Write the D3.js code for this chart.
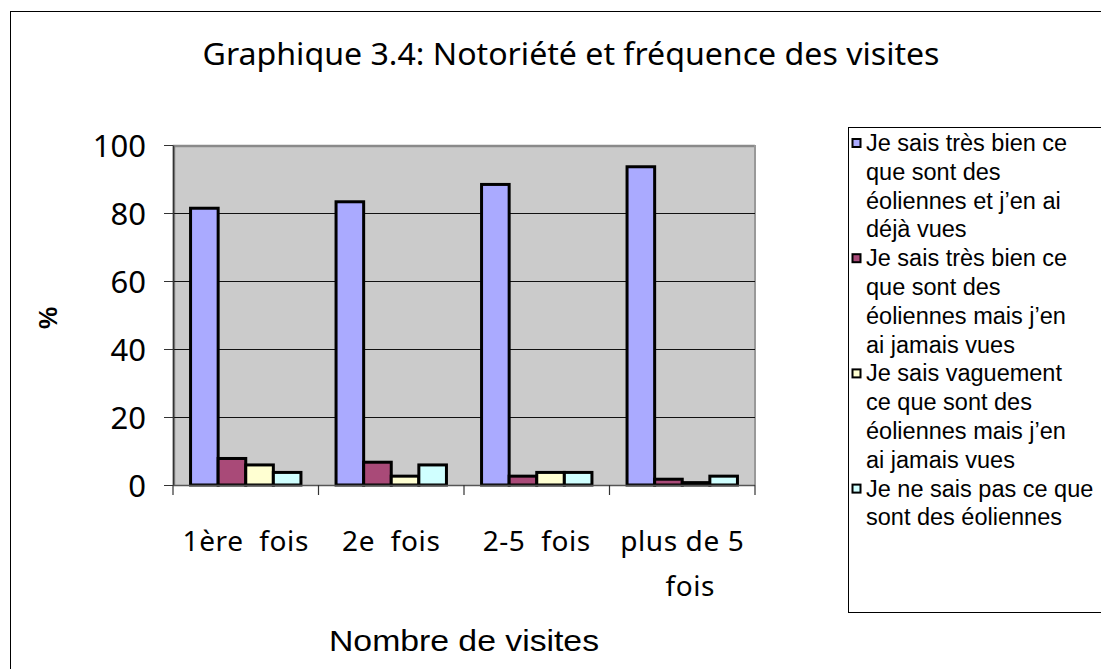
<!DOCTYPE html>
<html><head><meta charset="utf-8">
<script src="https://cdn.jsdelivr.net/npm/d3@7"></script>
<style>body{margin:0;background:#fff}svg{display:block}</style>
</head><body>
<svg id="c" width="1101" height="669"></svg>
<script>
const categories = ["1ère fois", "2e fois", "2-5 fois", "plus de 5 fois"];
const categoryLines = [["1ère  fois"], ["2e  fois"], ["2-5  fois"], ["plus de 5", "fois"]];
const seriesNames = [
  "Je sais très bien ce que sont des éoliennes et j’en ai déjà vues",
  "Je sais très bien ce que sont des éoliennes mais j’en ai jamais vues",
  "Je sais vaguement ce que sont des éoliennes mais j’en ai jamais vues",
  "Je ne sais pas ce que sont des éoliennes"
];
const legendLines = [
  ["Je sais très bien ce", "que sont des", "éoliennes et j’en ai", "déjà vues"],
  ["Je sais très bien ce", "que sont des", "éoliennes mais j’en", "ai jamais vues"],
  ["Je sais vaguement", "ce que sont des", "éoliennes mais j’en", "ai jamais vues"],
  ["Je ne sais pas ce que", "sont des éoliennes"]
];
const seriesValues = [
  [81.4, 83.3, 88.4, 93.6],
  [7.8, 6.7, 2.6, 1.7],
  [5.9, 2.6, 3.7, 0.7],
  [3.7, 5.9, 3.7, 2.6]
];
const seriesColors = ["#aaaaff", "#a94a78", "#ffffd2", "#d0ffff"];
const yTicks = [0, 20, 40, 60, 80, 100];
const titleText = "Graphique 3.4: Notoriété et fréquence des visites";
const xTitle = "Nombre de visites";
const yTitle = "%";

const svg = d3.select("#c");
const L = 173, R = 755, T = 145, B = 485;
const sansFont = "'Noto Sans', 'Open Sans', sans-serif";
const arialFont = "'Liberation Sans', Arial, sans-serif";

// outer chart border
svg.append("rect").attr("x", 10.5).attr("y", 11.5).attr("width", 1200).attr("height", 800)
  .attr("fill", "#fff").attr("stroke", "#000").attr("stroke-width", 1);

const x0 = d3.scaleBand().domain(categories).range([L, R]).paddingInner(0).paddingOuter(0);
const x1 = d3.scaleBand().domain(d3.range(4)).range([0, x0.bandwidth()]).paddingInner(0).paddingOuter(0.636);
const y = d3.scaleLinear().domain([0, 100]).range([B, T]);

// plot area
svg.append("rect").attr("x", L).attr("y", T).attr("width", R - L).attr("height", B - T).attr("fill", "#cbcbcb");
svg.append("path").attr("d", `M${L+1},${B} V${T+1} H${R}`).attr("fill", "none").attr("stroke", "#8a8a8a").attr("stroke-width", 2.5);
svg.append("line").attr("x1", R).attr("x2", R).attr("y1", T).attr("y2", B).attr("stroke", "#999").attr("stroke-width", 2);

// gridlines
svg.append("g").selectAll("line").data(yTicks.filter(d => d > 0 && d < 100)).join("line")
  .attr("x1", L).attr("x2", R).attr("y1", d => Math.round(y(d)) + 0.5).attr("y2", d => Math.round(y(d)) + 0.5)
  .attr("stroke", "#111").attr("stroke-width", 1.2);

// bars
seriesValues.forEach((vals, si) => {
  svg.append("g").selectAll("rect").data(vals).join("rect")
    .attr("x", (d, i) => x0(categories[i]) + x1(si))
    .attr("y", d => y(d))
    .attr("width", x1.bandwidth())
    .attr("height", d => B - y(d))
    .attr("fill", seriesColors[si])
    .attr("stroke", "#000").attr("stroke-width", 3);
});

// y axis
const yAxis = d3.axisLeft(y).tickValues(yTicks).tickSize(9).tickSizeOuter(0);
const gy = svg.append("g").attr("transform", `translate(${L},0)`).call(yAxis);
gy.select(".domain").attr("stroke", "#333").attr("stroke-width", 1.5);
gy.selectAll(".tick line").attr("stroke", "#333");
gy.selectAll(".tick text").attr("font-family", sansFont).attr("font-size", 31).attr("fill", "#000")
  .attr("x", -27).attr("dy", "0.36em");

// x axis
const xTickPos = categories.map(c => x0(c)).concat([R]);
svg.append("line").attr("x1", L).attr("x2", R).attr("y1", B + 0.5).attr("y2", B + 0.5).attr("stroke", "#555").attr("stroke-width", 1.5);
svg.append("g").selectAll("line").data(xTickPos).join("line")
  .attr("x1", d => d).attr("x2", d => d).attr("y1", B).attr("y2", B + 10).attr("stroke", "#333").attr("stroke-width", 1.2);

// x labels
const xl = svg.append("g").selectAll("text").data(categories).join("text")
  .attr("x", d => x0(d) + x0.bandwidth() / 2)
  .attr("y", 551)
  .attr("text-anchor", "middle")
  .attr("font-family", sansFont).attr("font-size", 28).attr("letter-spacing", 0.6)
  .style("white-space", "pre");
xl.each(function(d, i) {
  const t = d3.select(this);
  categoryLines[i].forEach((ln, k) => {
    t.append("tspan").attr("x", x0(d) + x0.bandwidth() / 2 + (k > 0 ? 8 : 0)).attr("dy", k === 0 ? 0 : 45).text(ln);
  });
});

// title
svg.append("text").attr("x", 571).attr("y", 65).attr("text-anchor", "middle")
  .attr("font-family", sansFont).attr("font-size", 30)
  .attr("textLength", 737).attr("lengthAdjust", "spacingAndGlyphs").text(titleText);

// x title
svg.append("text").attr("x", 464).attr("y", 651).attr("text-anchor", "middle")
  .attr("font-family", arialFont).attr("font-size", 30)
  .attr("textLength", 270).attr("lengthAdjust", "spacingAndGlyphs").text(xTitle);

// y title
svg.append("text").attr("transform", "translate(57,318) rotate(-90)").attr("text-anchor", "middle")
  .attr("font-family", arialFont).attr("font-size", 25).attr("font-weight", "bold").text(yTitle);

// legend
svg.append("rect").attr("x", 848.5).attr("y", 127.5).attr("width", 400).attr("height", 485)
  .attr("fill", "#fff").attr("stroke", "#000").attr("stroke-width", 1);
const lg = svg.append("g");
let lineIdx = 0;
const lineH = 28.8, firstBase = 151;
legendLines.forEach((lines, si) => {
  const base = firstBase + lineIdx * lineH;
  lg.append("rect").attr("x", 852.5).attr("y", base - 12).attr("width", 8).attr("height", 8)
    .attr("fill", seriesColors[si]).attr("stroke", "#000").attr("stroke-width", 2);
  lines.forEach((ln, k) => {
    lg.append("text").attr("x", 866).attr("y", firstBase + (lineIdx + k) * lineH)
      .attr("font-family", arialFont).attr("font-size", 23.5).text(ln);
  });
  lineIdx += lines.length;
});
</script>
</body></html>
